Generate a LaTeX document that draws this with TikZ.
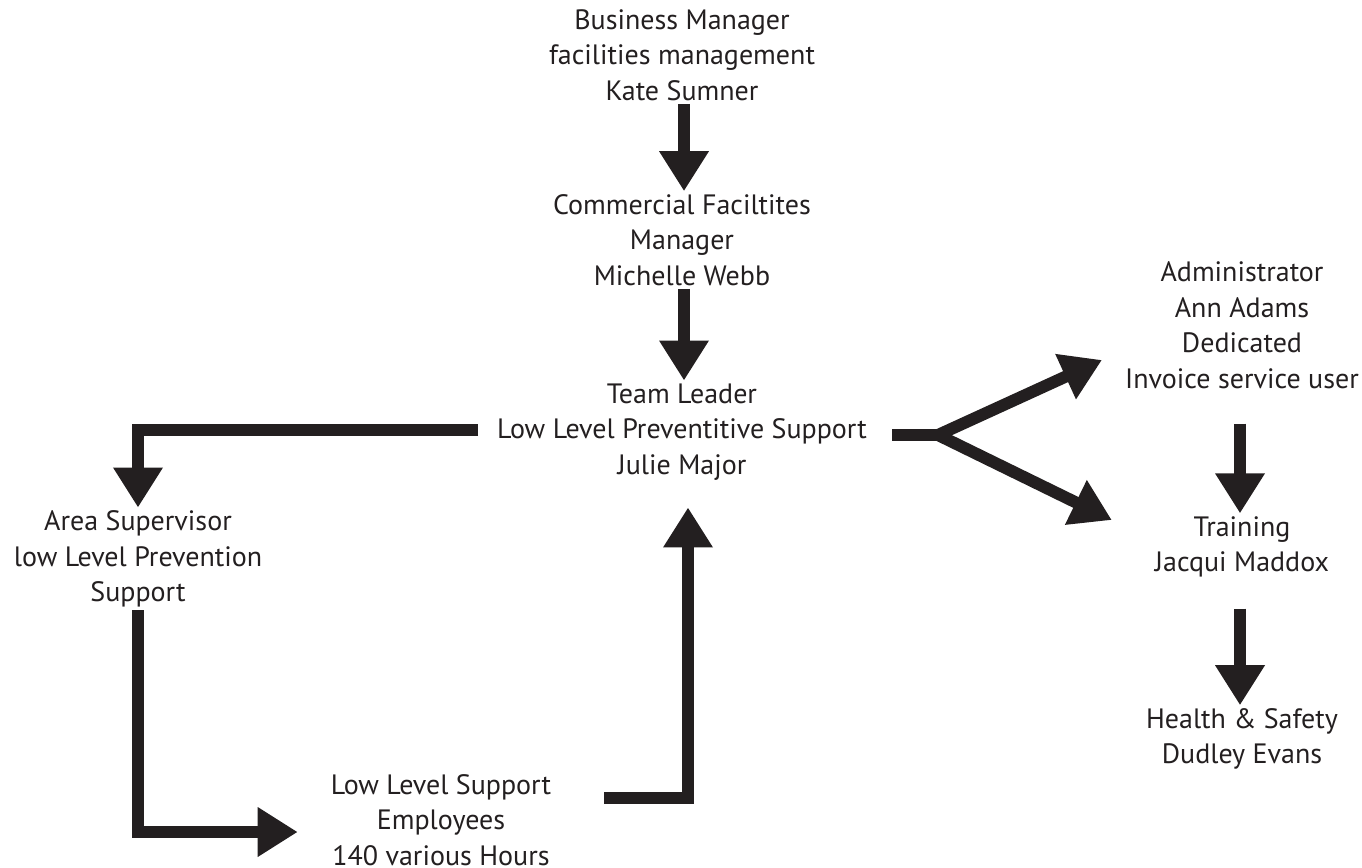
\documentclass[tikz,border=0pt]{standalone}
\usepackage{fontspec}
\setmainfont{PT Sans}
\usetikzlibrary{arrows.meta,calc}
\definecolor{ink}{HTML}{231F20}
\begin{document}
\begin{tikzpicture}[x=1pt,y=-1pt,
  lbl/.style={align=center,font=\fontsize{28}{35.5}\selectfont,text=ink,inner sep=3pt},
  conn/.style={draw=ink,line width=12pt,line join=miter,-{Triangle[length=40pt,width=47pt]}},
  bar/.style={draw=ink,line width=12pt,line join=miter}]
\useasboundingbox (0,0) rectangle (1362,867);
\node[lbl] (bm) at (682,55) {Business Manager\\facilities management\\Kate Sumner};
\node[lbl] (cfm) at (682,240) {Commercial Faciltites\\Manager\\Michelle Webb};
\node[lbl] (tl) at (682,432) {Team Leader\\Low Level Preventitive Support\\Julie Major};
\node[lbl] (as) at (138,559) {Area Supervisor\\low Level Prevention\\Support};
\node[lbl] (lls) at (441,820) {Low Level Support\\Employees\\140 various Hours};
\node[lbl] (adm) at (1242,325) {Administrator\\Ann Adams\\Dedicated\\Invoice service user};
\node[lbl] (tr) at (1242,547) {Training\\Jacqui Maddox};
\node[lbl] (hs) at (1242,739) {Health \& Safety\\Dudley Evans};
\coordinate (fork) at (938,435);
\draw[conn] ([xshift=2pt]bm.south) -- ([xshift=2pt]cfm.north);
\draw[conn] ([xshift=2pt]cfm.south) -- ([xshift=2pt]tl.north);
\draw[conn] ([xshift=-16pt,yshift=2pt]tl.west) -| (as.north);
\draw[conn] (as.south) |- ([xshift=-30pt,yshift=-12pt]lls.west);
\draw[conn] ([xshift=50pt,yshift=22pt]lls.east) -| ([xshift=6pt,yshift=-24pt]tl.south);
\draw[bar] ([xshift=22pt,yshift=-3pt]tl.east) -- (fork);
\draw[conn] (fork) -- ([xshift=-20pt,yshift=-35pt]adm.west);
\draw[conn] (fork) -- ([xshift=-40pt,yshift=27pt]tr.west);
\draw[conn] ([xshift=-2pt,yshift=-32pt]adm.south) -- ([xshift=-2pt]tr.north);
\draw[conn] ([xshift=-2pt,yshift=-28pt]tr.south) -- ([xshift=-2pt]hs.north);
\end{tikzpicture}
\end{document}
